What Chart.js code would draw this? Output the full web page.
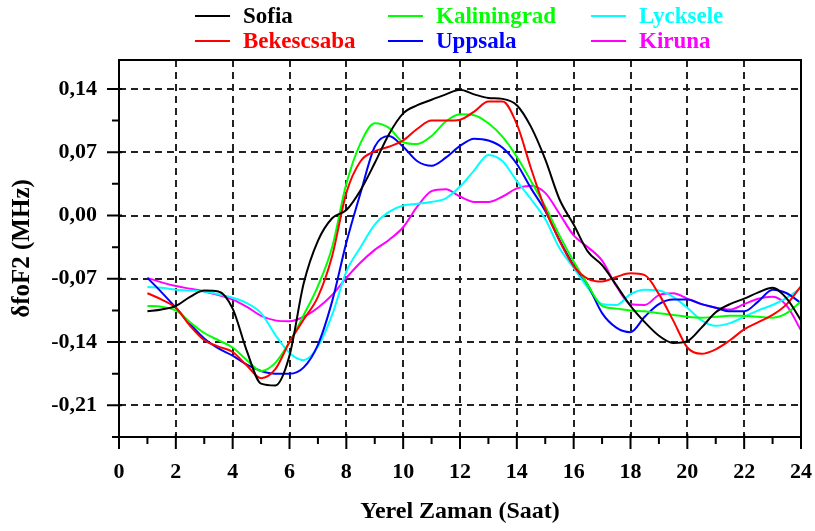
<!DOCTYPE html>
<html>
<head>
<meta charset="utf-8">
<script src="https://cdn.jsdelivr.net/npm/chart.js@4"></script>
<style>
    body { margin: 0; background: #fff; }
    #wrap { position: relative; width: 815px; height: 531px; }
    #legend {
        position: absolute; left: 195px; top: 3px;
        display: grid; grid-template-rows: 25px 25px; grid-auto-flow: column;
        grid-template-columns: 193px 203px 180px;
        font: bold 23px "Liberation Serif", serif;
    }
    .item { display: flex; align-items: center; }
    .item .line { width: 35px; height: 2px; margin-right: 13px; }
</style>
</head>
<body>
<div id="wrap">
    <canvas id="chart"></canvas>
    <div id="legend"></div>
</div>
<script>
// local time, hours
const hours = [1, 1.5, 2, 2.5, 3, 3.5, 4, 4.5, 5, 5.5, 6, 6.5, 7, 7.5, 8, 8.5, 9, 9.5, 10, 10.5, 11, 11.5, 12, 12.5,
    13, 13.5, 14, 14.5, 15, 15.5, 16, 16.5, 17, 17.5, 18, 18.5, 19, 19.5, 20, 20.5, 21, 21.5, 22, 22.5, 23, 23.5, 24];

const sofia = [-0.106, -0.104, -0.100, -0.090, -0.083, -0.084, -0.103, -0.150, -0.186, -0.188, -0.155, -0.075,
    -0.028, -0.003, 0.006, 0.028, 0.058, 0.090, 0.113, 0.122, 0.128, 0.134, 0.139, 0.134, 0.130, 0.129, 0.122,
    0.098, 0.062, 0.018, -0.010, -0.040, -0.055, -0.077, -0.100, -0.118, -0.133, -0.141, -0.139, -0.124, -0.107,
    -0.098, -0.092, -0.085, -0.080, -0.092, -0.116];
const bekescsaba = [-0.086, -0.093, -0.102, -0.122, -0.138, -0.145, -0.151, -0.166, -0.180, -0.170, -0.140, -0.115,
    -0.090, -0.045, 0.025, 0.060, 0.071, 0.076, 0.083, 0.096, 0.105, 0.105, 0.106, 0.115, 0.126, 0.126, 0.101,
    0.052, 0.007, -0.028, -0.056, -0.070, -0.073, -0.068, -0.064, -0.066, -0.087, -0.116, -0.146, -0.153, -0.148,
    -0.138, -0.126, -0.118, -0.110, -0.098, -0.078];
const kaliningrad = [-0.100, -0.101, -0.105, -0.118, -0.130, -0.138, -0.146, -0.160, -0.172, -0.163, -0.140, -0.110,
    -0.078, -0.035, 0.035, 0.080, 0.102, 0.097, 0.081, 0.079, 0.088, 0.104, 0.112, 0.111, 0.102, 0.087, 0.065,
    0.038, 0.010, -0.022, -0.051, -0.077, -0.100, -0.103, -0.105, -0.106, -0.108, -0.110, -0.112, -0.113, -0.112,
    -0.111, -0.111, -0.112, -0.113, -0.108, -0.095];
const uppsala = [-0.069, -0.085, -0.102, -0.120, -0.136, -0.147, -0.155, -0.165, -0.172, -0.175, -0.175, -0.168,
    -0.143, -0.095, -0.030, 0.025, 0.076, 0.088, 0.076, 0.060, 0.055, 0.064, 0.077, 0.085, 0.083, 0.075, 0.057,
    0.030, 0.005, -0.027, -0.055, -0.077, -0.108, -0.124, -0.129, -0.112, -0.098, -0.093, -0.093, -0.098, -0.102,
    -0.106, -0.106, -0.095, -0.082, -0.086, -0.097];
const lycksele = [-0.079, -0.080, -0.082, -0.083, -0.084, -0.087, -0.091, -0.097, -0.108, -0.132, -0.152, -0.160,
    -0.145, -0.110, -0.062, -0.035, -0.010, 0.004, 0.011, 0.013, 0.015, 0.019, 0.032, 0.050, 0.067, 0.060, 0.038,
    0.018, -0.004, -0.036, -0.058, -0.080, -0.098, -0.099, -0.087, -0.082, -0.083, -0.090, -0.102, -0.116, -0.122,
    -0.119, -0.112, -0.105, -0.099, -0.091, -0.080];
const kiruna = [-0.069, -0.074, -0.078, -0.081, -0.084, -0.088, -0.093, -0.101, -0.111, -0.116, -0.117, -0.112,
    -0.102, -0.088, -0.069, -0.052, -0.038, -0.027, -0.013, 0.010, 0.027, 0.029, 0.021, 0.015, 0.015, 0.021, 0.030,
    0.033, 0.025, 0.002, -0.022, -0.035, -0.050, -0.078, -0.098, -0.099, -0.088, -0.086, -0.092, -0.098, -0.102,
    -0.104, -0.098, -0.092, -0.090, -0.100, -0.127];

// axis ticks (minor ones get a tick mark but no label)
const xTicks = [0, 1, 2, 3, 4, 5, 6, 7, 8, 9, 10, 11, 12, 13, 14, 15, 16, 17, 18, 19, 20, 21, 22, 23, 24];
const xLabelled = [0, 2, 4, 6, 8, 10, 12, 14, 16, 18, 20, 22, 24];
const yTicks = [-0.245, -0.21, -0.175, -0.14, -0.105, -0.07, -0.035, 0, 0.035, 0.07, 0.105, 0.14];
const yLabelled = [-0.21, -0.14, -0.07, 0, 0.07, 0.14];

const series = [
    { label: "Sofia", values: sofia, color: "#000000" },
    { label: "Bekescsaba", values: bekescsaba, color: "#ff0000" },
    { label: "Kaliningrad", values: kaliningrad, color: "#00ff00" },
    { label: "Uppsala", values: uppsala, color: "#0000ff" },
    { label: "Lycksele", values: lycksele, color: "#00ffff" },
    { label: "Kiruna", values: kiruna, color: "#ff00ff" }
];

const serif = "'Liberation Serif', 'Times New Roman', serif";

function fmt(v) {
    return v.toFixed(2).replace(".", ",");
}

// frame round the plot and tick marks crossing the axes
const framePlugin = {
    id: "frame",
    afterDatasetsDraw(chart) {
        const { ctx, chartArea: a, scales } = chart;
        ctx.save();
        ctx.strokeStyle = "#000";
        ctx.lineWidth = 2;
        ctx.strokeRect(a.left, a.top, a.right - a.left, a.bottom - a.top);
        ctx.beginPath();
        scales.x.ticks.forEach(t => {
            const px = scales.x.getPixelForValue(t.value);
            const major = xLabelled.includes(t.value);
            ctx.moveTo(px, major ? a.bottom - 3 : a.bottom);
            ctx.lineTo(px, a.bottom + (major ? 12 : 7));
        });
        scales.y.ticks.forEach(t => {
            const py = scales.y.getPixelForValue(t.value);
            const major = yLabelled.includes(t.value);
            ctx.moveTo(a.left - (major ? 12 : 7), py);
            ctx.lineTo(major ? a.left + 3 : a.left, py);
        });
        ctx.stroke();
        ctx.restore();
    }
};

const chart = new Chart(document.getElementById("chart"), {
    type: "line",
    data: {
        datasets: series.map(s => ({
            label: s.label,
            data: hours.map((h, i) => ({ x: h, y: s.values[i] })),
            borderColor: s.color,
            backgroundColor: s.color,
            borderWidth: 2,
            pointRadius: 0,
            fill: false,
            cubicInterpolationMode: "monotone"
        }))
    },
    options: {
        responsive: true,
        maintainAspectRatio: false,
        animation: false,
        layout: { padding: { top: 60, right: 14, left: 0, bottom: 0 } },
        plugins: {
            legend: { display: false },
            tooltip: { enabled: false }
        },
        scales: {
            x: {
                type: "linear",
                min: 0,
                max: 24,
                afterBuildTicks: scale => { scale.ticks = xTicks.map(v => ({ value: v })); },
                afterFit: scale => {
                    scale.height = 94;
                    scale.paddingLeft = 0;
                    scale.paddingRight = 0;
                },
                ticks: {
                    autoSkip: false,
                    maxRotation: 0,
                    padding: 22,
                    color: "#000",
                    font: { family: serif, size: 22, weight: "bold" },
                    callback: v => xLabelled.includes(v) ? String(v) : ""
                },
                grid: {
                    drawTicks: false,
                    lineWidth: 2,
                    color: ctx => (xLabelled.includes(ctx.tick.value) && ctx.tick.value > 0 && ctx.tick.value < 24) ? "#222" : "transparent"
                },
                border: { display: false, dash: [7, 5] },
                title: {
                    display: true,
                    text: "Yerel Zaman (Saat)",
                    color: "#000",
                    font: { family: serif, size: 24, weight: "bold" },
                    padding: { top: 0, bottom: 5 }
                }
            },
            y: {
                min: -0.245,
                max: 0.172,
                afterBuildTicks: scale => { scale.ticks = yTicks.map(v => ({ value: v })); },
                afterFit: scale => { scale.width = 119; },
                ticks: {
                    autoSkip: false,
                    padding: 22,
                    color: "#000",
                    font: { family: serif, size: 22, weight: "bold" },
                    callback: v => yLabelled.includes(v) ? fmt(v) : ""
                },
                grid: {
                    drawTicks: false,
                    lineWidth: 2,
                    color: ctx => yLabelled.includes(ctx.tick.value) ? "#222" : "transparent"
                },
                border: { display: false, dash: [7, 5] },
                title: {
                    display: true,
                    text: "δfoF2 (MHz)",
                    color: "#000",
                    font: { family: serif, size: 25, weight: "bold" },
                    padding: { top: 8, bottom: 0 }
                }
            }
        }
    },
    plugins: [framePlugin]
});

// legend laid out in three columns, built from the chart's datasets
const legendEl = document.getElementById("legend");
chart.data.datasets.forEach(ds => {
    const item = document.createElement("div");
    item.className = "item";
    item.innerHTML = '<span class="line" style="background:' + ds.borderColor + '"></span>' +
        '<span style="color:' + ds.borderColor + '">' + ds.label + '</span>';
    legendEl.appendChild(item);
});
</script>
</body>
</html>
